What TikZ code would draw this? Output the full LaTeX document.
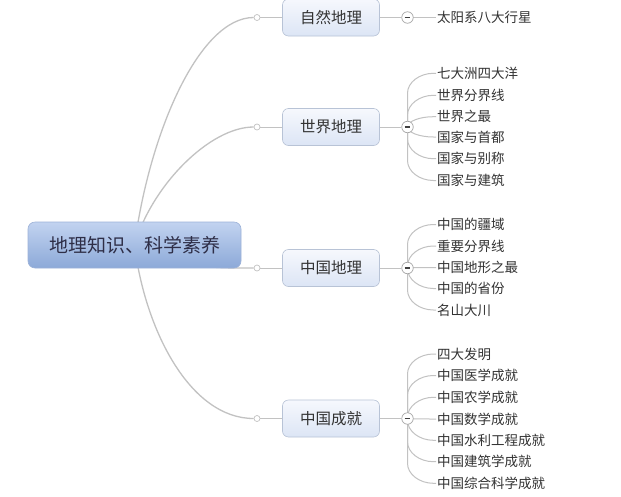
\documentclass[tikz,border=0pt]{standalone}
\usepackage{fontspec}
\setmainfont{Noto Sans CJK SC}
\usetikzlibrary{backgrounds,calc}
\definecolor{ln}{HTML}{C2C2C2}
\definecolor{txt}{HTML}{333333}
\definecolor{roottop}{HTML}{C2D3F0}
\definecolor{rootbot}{HTML}{8CA9D8}
\definecolor{rootdraw}{HTML}{9DB2D8}
\definecolor{toptop}{HTML}{F6F8FD}
\definecolor{topbot}{HTML}{DCE5F5}
\definecolor{topdraw}{HTML}{B8C3D6}
\tikzset{
  rootbox/.style={rectangle, rounded corners=7pt, minimum width=213pt, minimum height=46pt,
    top color=roottop, bottom color=rootbot, draw=rootdraw, line width=0.6pt,
    text=txt!90!blue, font=\fontsize{19}{22}\selectfont, inner sep=0pt},
  topicbox/.style={rectangle, rounded corners=6pt, minimum width=97pt, minimum height=37pt,
    top color=toptop, bottom color=topbot, draw=topdraw, line width=0.6pt,
    text=txt, font=\fontsize{15.5}{18}\selectfont, inner sep=0pt},
  dotnode/.style={circle, draw=ln, fill=white, minimum size=6pt, inner sep=0pt, line width=0.7pt},
  colnode/.style={circle, draw=gray!70, fill=white, minimum size=11.5pt, inner sep=0pt, line width=0.7pt,
    path picture={\draw[line width=1.2pt, black!75] ([xshift=-2.8pt]path picture bounding box.center) -- ([xshift=2.8pt]path picture bounding box.center);}},
  leaf/.style={anchor=west, inner sep=1pt, text=txt, font=\fontsize{13.5}{16}\selectfont},
  conn/.style={draw=ln, line width=1pt},
  mainconn/.style={draw=ln, line width=1.3pt}
}
\newcommand\leafline[2]{%
  \draw[conn] let \p1=(#1.center), \p2=(#2.west),
    \n1={min(abs(\y2-\y1),20)}, \n2={ifthenelse(\y2>\y1,1,-1)} in
    (\p1) -- (\x1,\y2-\n2*\n1) .. controls (\x1,\y2-0.45*\n2*\n1) and (\x1+12,\y2) .. (\x1+26,\y2) -- (\p2);}
\begin{document}
\begin{tikzpicture}[x=1pt,y=-1pt]
\useasboundingbox (0,0) rectangle (621,496);

\node[rootbox] (root) at (134.5,245) {地理知识、科学素养};

\node[topicbox] (t1) at (331,17.5) {自然地理};
\node[topicbox] (t2) at (331,127) {世界地理};
\node[topicbox] (t3) at (331,268) {中国地理};
\node[topicbox] (t4) at (331,418.5) {中国成就};

\node[dotnode] (d1) at (257,17.5) {};
\node[dotnode] (d2) at (257,127) {};
\node[dotnode] (d3) at (257,268) {};
\node[dotnode] (d4) at (257,418.5) {};

\node[colnode] (m1) at (407.5,17.5) {};
\node[colnode] (m2) at (407.5,127) {};
\node[colnode] (m3) at (407.5,268) {};
\node[colnode] (m4) at (407.5,418.5) {};

\node[leaf] (a1) at (436,17.5) {太阳系八大行星};

\node[leaf] (b1) at (436,73.3) {七大洲四大洋};
\node[leaf] (b2) at (436,95.3) {世界分界线};
\node[leaf] (b3) at (436,116.7) {世界之最};
\node[leaf] (b4) at (436,137) {国家与首都};
\node[leaf] (b5) at (436,158.7) {国家与别称};
\node[leaf] (b6) at (436,180.5) {国家与建筑};

\node[leaf] (c1) at (436,224.5) {中国的疆域};
\node[leaf] (c2) at (436,246) {重要分界线};
\node[leaf] (c3) at (436,267.5) {中国地形之最};
\node[leaf] (c4) at (436,288.5) {中国的省份};
\node[leaf] (c5) at (436,310) {名山大川};

\node[leaf] (e1) at (436,354) {四大发明};
\node[leaf] (e2) at (436,375.5) {中国医学成就};
\node[leaf] (e3) at (436,397.3) {中国农学成就};
\node[leaf] (e4) at (436,419) {中国数学成就};
\node[leaf] (e5) at (436,440.3) {中国水利工程成就};
\node[leaf] (e6) at (436,461.7) {中国建筑学成就};
\node[leaf] (e7) at (436,483.3) {中国综合科学成就};

\begin{scope}[on background layer]
\fill[white] (0,0) rectangle (621,496);
\draw[mainconn] (root.center) .. controls (150,130) and (200,17.5) .. (d1);
\draw[mainconn] (root.center) .. controls (152,185) and (210,127) .. (d2);
\draw[mainconn] (root.center) .. controls (200,268) .. (d3);
\draw[mainconn] (root.center) .. controls (145,330) and (190,418.5) .. (d4);
\foreach \i in {1,2,3,4} {
  \draw[conn] (d\i) -- (t\i.west);
  \draw[conn] (t\i.east) -- (m\i);
}
\draw[conn] (m1.center) -- (a1.west);
\foreach \j in {1,...,6} { \leafline{m2}{b\j} }
\foreach \j in {1,...,5} { \leafline{m3}{c\j} }
\foreach \j in {1,...,7} { \leafline{m4}{e\j} }
\end{scope}
\end{tikzpicture}
\end{document}
